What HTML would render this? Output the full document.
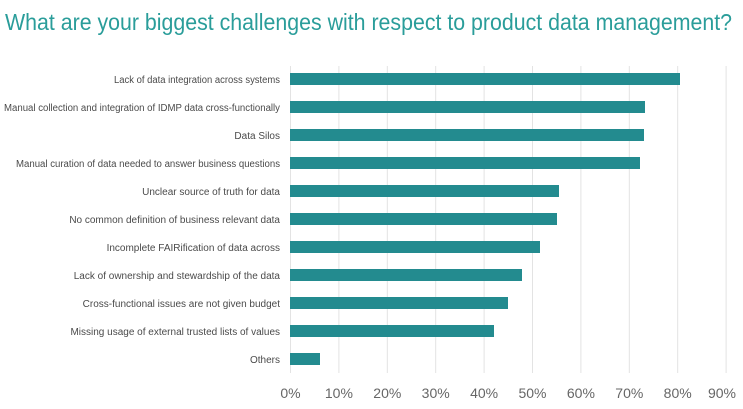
<!DOCTYPE html>
<html><head><meta charset="utf-8"><style>
html,body{margin:0;padding:0;background:#fff;}
svg{display:block;}
</style></head><body>
<svg width="743" height="409" xmlns="http://www.w3.org/2000/svg" font-family="Liberation Sans, sans-serif">
<text x="5" y="30" font-size="23" fill="#2a9d9a" textLength="727" lengthAdjust="spacingAndGlyphs" font-weight="300">What are your biggest challenges with respect to product data management?</text>
<g stroke="#e3e3e3" stroke-width="1">
<line x1="290.5" y1="66" x2="290.5" y2="373"/>
<line x1="338.9" y1="66" x2="338.9" y2="373"/>
<line x1="387.3" y1="66" x2="387.3" y2="373"/>
<line x1="435.7" y1="66" x2="435.7" y2="373"/>
<line x1="484.1" y1="66" x2="484.1" y2="373"/>
<line x1="532.5" y1="66" x2="532.5" y2="373"/>
<line x1="580.9" y1="66" x2="580.9" y2="373"/>
<line x1="629.3" y1="66" x2="629.3" y2="373"/>
<line x1="677.7" y1="66" x2="677.7" y2="373"/>
<line x1="726.1" y1="66" x2="726.1" y2="373"/>
</g>
<g fill="#238b8f">
<rect x="290" y="73" width="390" height="12"/>
<rect x="290" y="101" width="355" height="12"/>
<rect x="290" y="129" width="354" height="12"/>
<rect x="290" y="157" width="350" height="12"/>
<rect x="290" y="185" width="269" height="12"/>
<rect x="290" y="213" width="267" height="12"/>
<rect x="290" y="241" width="250" height="12"/>
<rect x="290" y="269" width="232" height="12"/>
<rect x="290" y="297" width="218" height="12"/>
<rect x="290" y="325" width="204" height="12"/>
<rect x="290" y="353" width="30" height="12"/>
</g>
<g font-size="10" fill="#4a4a4a" text-anchor="end">
<text x="280" y="83" textLength="166" lengthAdjust="spacingAndGlyphs">Lack of data integration across systems</text>
<text x="280" y="111" textLength="276" lengthAdjust="spacingAndGlyphs">Manual collection and integration of IDMP data cross-functionally</text>
<text x="280" y="139">Data Silos</text>
<text x="280" y="167" textLength="264" lengthAdjust="spacingAndGlyphs">Manual curation of data needed to answer business questions</text>
<text x="280" y="195">Unclear source of truth for data</text>
<text x="280" y="223">No common definition of business relevant data</text>
<text x="280" y="251">Incomplete FAIRification of data across</text>
<text x="280" y="279">Lack of ownership and stewardship of the data</text>
<text x="280" y="307">Cross-functional issues are not given budget</text>
<text x="280" y="335">Missing usage of external trusted lists of values</text>
<text x="280" y="363">Others</text>
</g>
<g font-size="14" fill="#666" text-anchor="middle">
<text x="290.5" y="398">0%</text>
<text x="338.9" y="398">10%</text>
<text x="387.3" y="398">20%</text>
<text x="435.7" y="398">30%</text>
<text x="484.1" y="398">40%</text>
<text x="532.5" y="398">50%</text>
<text x="580.9" y="398">60%</text>
<text x="629.3" y="398">70%</text>
<text x="677.7" y="398">80%</text>
<text x="722" y="398">90%</text>
</g>
</svg>
</body></html>
